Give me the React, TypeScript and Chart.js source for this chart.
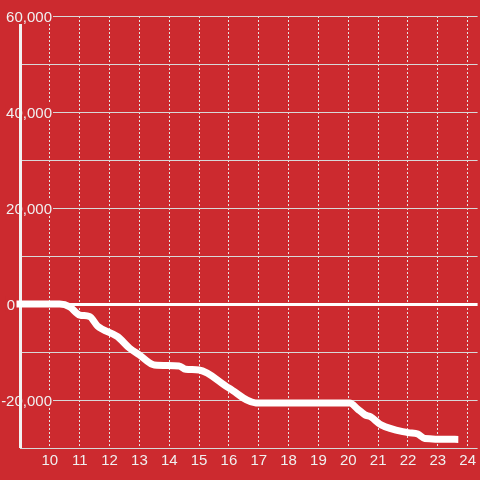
import { useEffect, useRef } from 'react';
import { Chart, registerables } from 'chart.js';

Chart.register(...registerables);

// Data (hour of day vs running balance)
const hours = [9, 10.33, 10.67, 11, 11.33, 11.6, 12.27, 12.67, 13, 13.5, 14.33, 14.55, 15, 16, 16.9, 20.05, 20.3, 20.56, 20.75, 21.1, 22, 22.33, 22.56, 23.57];
const balance = [0, 0, -600, -2300, -2600, -4600, -6800, -9200, -10600, -12700, -12900, -13600, -13750, -17500, -20600, -20600, -21800, -23100, -23500, -25200, -26800, -27100, -28000, -28200];

const xTickValues = [10, 11, 12, 13, 14, 15, 16, 17, 18, 19, 20, 21, 22, 23, 24];
const yGridValues = [60000, 50000, 40000, 30000, 20000, 10000, 0, -10000, -20000, -30000];
const yLabelValues = [60000, 40000, 20000, 0, -20000];
const yLabelTexts = ['60,000', '40,000', '20,000', '0', '-20,000'];

const BG = '#cc2a2f';
const TEXT = '#f0f0f0';
const FONT_FAMILY = '"Liberation Sans", Arial, sans-serif';

const yAxisDecor = {
  id: 'yAxisDecor',
  beforeDatasetsDraw(chart: any) {
    const { ctx, chartArea, scales } = chart;
    const y = scales.y;
    ctx.save();
    ctx.font = '15px ' + FONT_FAMILY;
    ctx.textBaseline = 'middle';
    ctx.textAlign = 'right';
    yLabelValues.forEach((v, i) => {
      const text = yLabelTexts[i];
      const py = y.getPixelForValue(v);
      const w = ctx.measureText(text).width;
      const right = v === 0 ? chartArea.left - 5 : chartArea.left + 32;
      ctx.fillStyle = BG;
      ctx.fillRect(right - w - 1, py - 8, w + 2, 16);
      ctx.fillStyle = TEXT;
      ctx.fillText(text, right, py + 2);
    });
    ctx.fillStyle = '#f2f2f2';
    ctx.fillRect(chartArea.left - 1, chartArea.top + 8, 3, chartArea.bottom - chartArea.top - 8);
    ctx.restore();
  },
};

export default function App() {
  const canvasRef = useRef<HTMLCanvasElement | null>(null);

  useEffect(() => {
    document.body.style.margin = '0';
    document.body.style.background = BG;
    const canvas = canvasRef.current;
    if (!canvas) return;
    const chart = new Chart(canvas, {
      type: 'line',
      data: {
        datasets: [
          {
            data: hours.map((h, i) => ({ x: h, y: balance[i] })),
            borderColor: '#ffffff',
            borderWidth: 7,
            borderCapStyle: 'square',
            borderJoinStyle: 'round',
            pointRadius: 0,
            cubicInterpolationMode: 'monotone',
            fill: false,
            clip: false as any,
          },
        ],
      },
      options: {
        animation: false,
        responsive: true,
        maintainAspectRatio: false,
        layout: { padding: { top: 16, left: 0, right: 0, bottom: 0 } },
        plugins: { legend: { display: false }, tooltip: { enabled: false } },
        scales: {
          x: {
            type: 'linear',
            min: 9,
            max: 24.333,
            afterBuildTicks: (s: any) => {
              s.ticks = xTickValues.map((v) => ({ value: v }));
            },
            afterFit: (s: any) => {
              s.height = 32;
            },
            grid: { color: '#e4e4e4', lineWidth: 1, drawTicks: false },
            border: { display: false, dash: [2, 2] },
            ticks: {
              color: TEXT,
              font: { family: FONT_FAMILY, size: 15 },
              padding: 4,
              maxRotation: 0,
              autoSkip: false,
              callback: (v: any) => String(v),
            },
          },
          y: {
            type: 'linear',
            min: -30000,
            max: 60000,
            afterBuildTicks: (s: any) => {
              s.ticks = yGridValues.map((v) => ({ value: v }));
            },
            afterFit: (s: any) => {
              s.width = 20;
            },
            grid: {
              color: (c: any) => (c.tick && c.tick.value === 0 ? '#ffffff' : '#d8d8d8'),
              lineWidth: (c: any) => (c.tick && c.tick.value === 0 ? 3 : 1),
              drawTicks: false,
            },
            border: { display: false },
            ticks: { display: false },
          },
        },
      },
      plugins: [yAxisDecor],
    });
    return () => chart.destroy();
  }, []);

  return (
    <div style={{ position: 'relative', width: 480, height: 480, background: BG }}>
      <canvas ref={canvasRef} />
    </div>
  );
}
